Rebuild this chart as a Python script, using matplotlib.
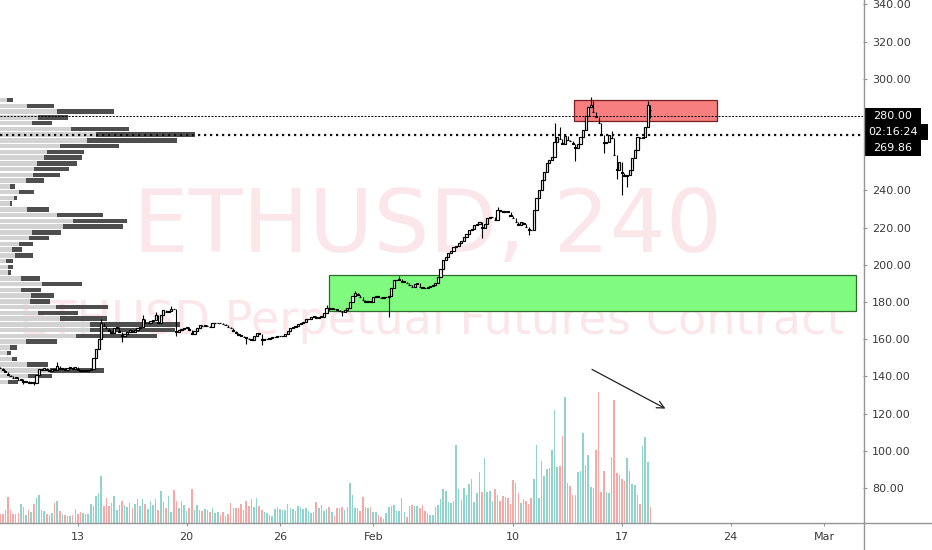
import numpy as np
import pandas as pd
import matplotlib
matplotlib.use("Agg")
import matplotlib.pyplot as plt
import matplotlib.dates as mdates
from matplotlib.lines import Line2D
from matplotlib.patches import Rectangle

# ETHUSD perpetual, 4h candles
start = "2020-01-08 00:00"
first_open = 145.0
closes = [
    144.5, 143.5, 142.5, 141, 140, 139, 139.5, 138, 138.5, 137,
    137.5, 136.5, 137, 136.5, 141, 144, 143.5, 144.5, 143.5, 143,
    144, 143.5, 145.5, 144, 144.5, 143.5, 144.5, 145, 144, 145,
    143.5, 143, 143.5, 143, 143.5, 144, 150, 155, 160, 169,
    167, 166, 164.5, 163.5, 166, 166.5, 164, 162, 163, 164,
    165, 164, 165, 166, 166.5, 171, 168.5, 169, 170, 170.5,
    173, 169, 173, 175.5, 174.5, 175, 176.5, 176, 164, 165,
    165.5, 166, 166.5, 165, 163, 164.5, 166, 167.5, 167, 167.5,
    167, 166.5, 168.5, 168.5, 169, 168.5, 168, 167.5, 166.5, 166,
    164.5, 163.5, 162.5, 162, 161, 160.8, 160, 159.6, 161.5, 163.3,
    163, 159.6, 160, 160, 160.5, 161, 161, 161.5, 161.7, 162,
    163, 164.5, 166, 166.5, 167, 168, 168.7, 169.5, 170.8, 171,
    172, 172.5, 171.5, 172, 172, 174, 177, 176.5, 176.7, 176,
    175.7, 175, 174.6, 175.5, 177, 180, 183, 184.8, 183.8, 182.5,
    181, 180, 180.5, 180, 182.7, 183, 182.7, 182, 182.5, 182.7,
    183.5, 187.5, 191.8, 192, 192.4, 190.8, 191, 190.2, 189, 188,
    189.5, 190.2, 188, 187.8, 187.5, 188, 188.5, 189, 190, 193.5,
    198, 202.5, 204, 206.5, 207.5, 209.6, 210, 212, 213, 215,
    216.5, 218.6, 219.5, 221.4, 222, 223, 219.8, 222, 225, 225.5,
    225.7, 224, 229.5, 229, 228.4, 229, 228.4, 226.5, 225, 223,
    221.4, 223, 222, 220.3, 219, 218.7, 229.5, 236, 240, 245.6,
    250, 254.7, 256.3, 258, 266, 268.7, 267.5, 265, 269.5, 267,
    266.5, 265, 262.8, 265, 268.7, 272.5, 280, 285, 286, 282,
    279.5, 276, 270, 265.5, 266, 269.8, 268, 259, 251, 255.3,
    249.4, 248, 248.3, 251, 257.4, 261.7, 268.7, 268, 269, 274,
    286, 283,
]
volume = [
    9, 9, 13, 26, 13, 9, 9, 10, 19, 16,
    8, 13, 11, 19, 25, 28, 13, 12, 9, 8,
    10, 20, 22, 12, 9, 8, 7, 7, 8, 14,
    9, 11, 10, 9, 9, 19, 17, 27, 30, 47,
    17, 25, 17, 20, 27, 13, 18, 22, 18, 16,
    20, 15, 19, 24, 17, 24, 19, 14, 22, 18,
    24, 13, 32, 21, 15, 27, 11, 33, 22, 15,
    22, 18, 12, 15, 34, 13, 18, 13, 12, 14,
    13, 11, 15, 10, 11, 8, 11, 7, 9, 20,
    15, 15, 15, 19, 13, 22, 17, 24, 16, 25,
    17, 13, 11, 10, 8, 7, 14, 16, 14, 13,
    13, 19, 15, 14, 12, 17, 16, 14, 15, 12,
    10, 11, 21, 15, 18, 12, 14, 16, 11, 7,
    15, 15, 16, 13, 16, 40, 28, 15, 15, 12,
    26, 16, 15, 16, 11, 11, 8, 6, 4, 10,
    16, 17, 18, 12, 12, 25, 11, 6, 17, 18,
    17, 17, 15, 18, 12, 10, 8, 8, 16, 18,
    24, 34, 32, 21, 20, 22, 78, 34, 23, 35,
    28, 39, 44, 21, 30, 51, 31, 65, 31, 32,
    22, 34, 28, 22, 27, 26, 25, 19, 43, 40,
    30, 20, 24, 22, 19, 25, 44, 78, 25, 62,
    47, 54, 55, 73, 113, 56, 57, 87, 126, 40,
    37, 28, 28, 51, 52, 90, 58, 68, 36, 35,
    73, 131, 31, 52, 31, 30, 66, 123, 50, 48,
    44, 42, 65, 52, 39, 38, 28, 19, 77, 86,
    61, 16,
]
# notable wicks: candle index -> (high, low), None = no wick on that side
wicks = {
    9: (None, 136.2), 13: (None, 135.5), 22: (147.5, None), 39: (171, None),
    47: (None, 158.5), 55: (173, None), 60: (174.5, None), 66: (178, None),
    68: (None, 161.5), 95: (None, 157.5), 101: (None, 157), 126: (178.5, None),
    132: (None, 172.5), 137: (186, None), 150: (None, 172), 154: (194, None),
    186: (None, 214.6), 192: (231, None), 204: (None, 216), 214: (276, None),
    216: (274, None), 222: (None, 256), 228: (290.1, None), 229: (288, None),
    233: (None, 260), 236: (272, None), 238: (None, 246), 240: (None, 237.5),
    242: (None, 242), 246: (None, 262), 250: (288, None), 251: (None, 279),
}

# visible range volume profile, rows from top to bottom (up part, total)
vp_up = [7, 27, 57, 38, 32, 71, 96, 87, 60, 47, 44, 37, 34, 33, 26, 10, 19, 14, 10, 27,
         57, 73, 63, 32, 29, 19, 12, 15, 6, 8, 8, 21, 42, 21, 31, 30, 56, 38, 60, 90,
         90, 76, 26, 10, 7, 12, 27, 50, 28, 8]
vp_total = [13, 54, 114, 68, 52, 129, 195, 177, 119, 84, 82, 77, 69, 60, 44, 15, 34, 17, 12, 49,
            103, 127, 123, 61, 49, 33, 22, 33, 13, 13, 11, 40, 82, 41, 54, 50, 108, 78, 107, 180,
            175, 157, 57, 17, 11, 17, 48, 104, 52, 18]

# drawings
red_zone = ("2020-02-13 22:00", "2020-02-23 03:00", 277.3, 288.6)
green_zone = ("2020-01-29 03:00", "2020-03-03 02:00", 175.2, 194.5)
arrow_from = ("2020-02-14 22:00", 144.5)
arrow_to = ("2020-02-19 23:00", 122.0)
level_price = 280.00
last_price = 269.86
countdown = "02:16:24"

tick_dates = ["2020-01-13", "2020-01-20", "2020-01-26", "2020-02-01",
              "2020-02-10", "2020-02-17", "2020-02-24", "2020-03-01"]
tick_labels = ["13", "20", "26", "Feb", "10", "17", "24", "Mar"]
price_ticks = [80, 100, 120, 140, 160, 180, 200, 220, 240, 300, 320, 340]


def dnum(s):
    return mdates.date2num(pd.Timestamp(s))


t = mdates.date2num(pd.date_range(start, periods=len(closes), freq="4h"))
c = np.array(closes, dtype=float)
o = np.concatenate([[first_open], c[:-1]])
hi = np.maximum(o, c)
lo = np.minimum(o, c)
for i, (h, l) in wicks.items():
    if h is not None:
        hi[i] = h
    if l is not None:
        lo[i] = l
up = c >= o

W, H = 932, 550
fig = plt.figure(figsize=(W / 100, H / 100), dpi=100, facecolor="white")
ax = fig.add_axes([0, 27 / H, 863 / W, 523 / H])
ax_vol = ax.twinx()
ax_vp = ax.twiny()
ax_vol.set_zorder(1)
ax_vp.set_zorder(2)
ax.set_zorder(3)
ax.patch.set_visible(False)

tick_col = "#3a3a3a"
line_col = "#959595"
wm_col = "#fbe7e9"

# watermark
ax_vol.text(0.495, 0.518, "ETHUSD, 240", transform=ax_vol.transAxes, ha="center",
            va="baseline", fontsize=63.5, color=wm_col)
ax_vol.text(0.5, 0.362, "ETHUSD Perpetual Futures Contract", transform=ax_vol.transAxes,
            ha="center", va="baseline", fontsize=33.3, color=wm_col)

# volume
vcols = np.where(up, "#26a69a", "#ef5350")
ax_vol.bar(t, volume, width=0.1, color=vcols, alpha=0.5, linewidth=0)
ax_vol.set_ylim(0, max(volume) * 4.0)
ax_vol.set_yticks([])

# volume profile
edges = np.linspace(lo.min(), hi.max(), len(vp_up) + 1)
centers = ((edges[:-1] + edges[1:]) / 2)[::-1]
row_h = (edges[1] - edges[0]) * 0.78
vp_dn = np.array(vp_total) - np.array(vp_up)
ax_vp.barh(centers, vp_up, height=row_h, left=0, color="#d2d2d2", linewidth=0)
ax_vp.barh(centers, vp_dn, height=row_h, left=vp_up, color="#4e4e4e", linewidth=0)
ax_vp.set_xlim(0, max(vp_total) / 0.226)
ax_vp.set_xticks([])

# zones
x0, x1, y0, y1 = red_zone
ax.add_patch(Rectangle((dnum(x0), y0), dnum(x1) - dnum(x0), y1 - y0, facecolor="#f77f7f",
                       edgecolor="#7a1f1f", lw=0.9, zorder=1))
x0, x1, y0, y1 = green_zone
ax.add_patch(Rectangle((dnum(x0), y0), dnum(x1) - dnum(x0), y1 - y0, facecolor="#80fb80",
                       edgecolor="#2f6b2f", lw=0.9, zorder=1))

# price lines
ax.axhline(level_price, color="black", lw=0.7, ls=(0, (2, 1.5)), zorder=2)
ax.axhline(last_price, color="#111111", lw=1.6, ls=(0, (1, 1.7)), zorder=2)

# candles
ax.vlines(t, lo, hi, color="black", lw=0.8, zorder=3)
ax.bar(t, np.maximum(c - o, 0.3), bottom=np.minimum(o, c), width=0.14,
       color=np.where(up, "white", "black"), edgecolor="black", linewidth=0.85, zorder=4)

ax.annotate("", xy=(dnum(arrow_to[0]), arrow_to[1]),
            xytext=(dnum(arrow_from[0]), arrow_from[1]),
            arrowprops=dict(arrowstyle="->", color="#222222", lw=0.9, mutation_scale=13),
            zorder=5)

# axes
ax.set_xlim(dnum("2020-01-08 00:00") - 0.01, dnum("2020-03-03 12:15"))
ax.set_ylim(61.2, 342.4)
for a in (ax, ax_vol, ax_vp):
    for s in a.spines.values():
        s.set_visible(False)
ax.yaxis.tick_right()
ax.set_yticks(price_ticks)
ax.set_yticklabels([f"{p:.2f}" for p in price_ticks])
ax.set_xticks([dnum(d) for d in tick_dates])
ax.set_xticklabels(tick_labels)
ax.tick_params(axis="y", length=3, pad=3.5, colors=line_col, labelcolor=tick_col, labelsize=8)
ax.tick_params(axis="x", length=2.5, pad=4, colors=line_col, labelcolor=tick_col, labelsize=8)

fig.add_artist(Line2D([863.5 / W, 863.5 / W], [0, 1], color=line_col, lw=1))
fig.add_artist(Line2D([0, 1], [1 - 523 / H, 1 - 523 / H], color=line_col, lw=1))

# price scale labels
for y_top, x_end, txt, tx in [(108, 921, f"{level_price:.2f}", 873),
                              (124, 928, countdown, 868),
                              (140, 921, f"{last_price:.2f}", 873)]:
    fig.add_artist(Rectangle((864 / W, 1 - (y_top + 16) / H), (x_end - 864) / W, 16 / H,
                             transform=fig.transFigure, facecolor="black", edgecolor="none"))
    fig.text(tx / W, 1 - (y_top + 8) / H, txt, color="white", fontsize=8, va="center", ha="left")

fig.savefig("out.png", dpi=100, facecolor="white")
